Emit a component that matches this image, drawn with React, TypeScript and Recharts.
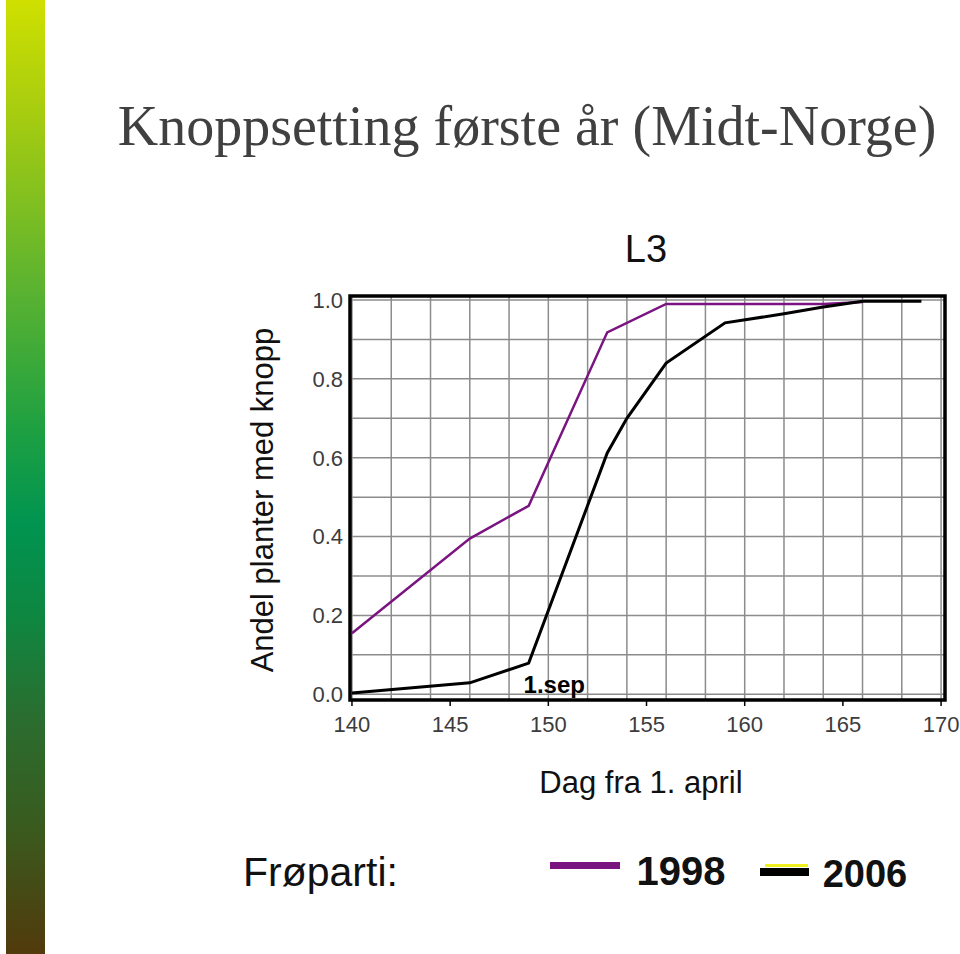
import { LineChart, Line, XAxis, YAxis, CartesianGrid, ReferenceArea, ReferenceDot } from 'recharts';

// Dag fra 1. april / andel planter med knopp
const days1998 = [140, 146, 149, 153, 156, 164, 166];
const share1998 = [0.155, 0.395, 0.478, 0.918, 0.99, 0.99, 0.995];
const days2006 = [140, 146, 149, 153, 154, 156, 159, 162, 164, 166, 169];
const share2006 = [0.003, 0.029, 0.079, 0.612, 0.7, 0.84, 0.942, 0.965, 0.982, 0.997, 0.997];

const xTicks = [140, 145, 150, 155, 160, 165, 170];
const yTicks = [0, 0.2, 0.4, 0.6, 0.8, 1.0];
const seriesNames = ['1998', '2006'];

const data1998 = days1998.map((day, i) => ({ day, share: share1998[i] }));
const data2006 = days2006.map((day, i) => ({ day, share: share2006[i] }));

const gridDays = Array.from({ length: 31 }, (_, i) => 140 + i);
const gridShares = Array.from({ length: 11 }, (_, i) => i / 10);

const X_DOMAIN: [number, number] = [139.9, 170.2];
const Y_DOMAIN: [number, number] = [-0.0145, 1.0101];

const tickStyle = { fill: '#3c3c3c', fontSize: 22, fontFamily: '"Liberation Sans", Arial, sans-serif' };

const App = () => {
  return (
    <div style={{ position: 'absolute', left: 0, top: 0, width: 960, height: 954, background: '#fff' }}>
      <svg width={960} height={954} style={{ position: 'absolute', left: 0, top: 0 }}>
        <defs>
          <linearGradient id="strip" x1="0" y1="0" x2="0" y2="1">
            <stop offset="0" stopColor="#cfe000" />
            <stop offset="0.12" stopColor="#a6cc10" />
            <stop offset="0.3" stopColor="#5cb330" />
            <stop offset="0.45" stopColor="#1ea042" />
            <stop offset="0.55" stopColor="#009450" />
            <stop offset="0.65" stopColor="#0f8640" />
            <stop offset="0.75" stopColor="#2a6e30" />
            <stop offset="0.87" stopColor="#3a5a1e" />
            <stop offset="1" stopColor="#523a0c" />
          </linearGradient>
        </defs>
        <rect x={6} y={0} width={39} height={954} fill="url(#strip)" />
        <text x={527} y={145} textAnchor="middle" fill="#404040" fontSize={56}
          fontFamily='"Liberation Serif", "Times New Roman", serif'>
          Knoppsetting første år (Midt-Norge)
        </text>
        <g fontFamily='"Liberation Sans", Arial, sans-serif' fill="#111">
          <text x={646} y={262} textAnchor="middle" fontSize={38}>L3</text>
          <text x={273} y={500} textAnchor="middle" fontSize={31} transform="rotate(-90, 273, 500)">
            Andel planter med knopp
          </text>
          <text x={641} y={793} textAnchor="middle" fontSize={31}>Dag fra 1. april</text>
          <text x={243} y={886} fontSize={41}>Frøparti:</text>
          <rect x={550} y={862} width={70} height={7} fill="#7a1480" />
          <text x={681} y={885} textAnchor="middle" fontSize={40} fontWeight="bold">{seriesNames[0]}</text>
          <rect x={765} y={864} width={43} height={3} fill="#f0f020" />
          <rect x={760} y={868} width={49} height={8} fill="#000" />
          <text x={865} y={887} textAnchor="middle" fontSize={38} fontWeight="bold">{seriesNames[1]}</text>
        </g>
      </svg>
      <div style={{ position: 'absolute', left: 0, top: 0 }}>
        <LineChart width={960} height={954} margin={{ top: 296, right: 15, bottom: 214, left: 300 }}>
          <CartesianGrid stroke="#8c8c8c" strokeWidth={1.5}
            verticalValues={gridDays} horizontalValues={gridShares} />
          <XAxis dataKey="day" type="number" domain={X_DOMAIN} allowDataOverflow ticks={xTicks}
            height={40} axisLine={false} tickSize={6} tickMargin={10}
            tickLine={{ stroke: '#000', strokeWidth: 1.5 }} tick={tickStyle} />
          <YAxis type="number" domain={Y_DOMAIN} allowDataOverflow ticks={yTicks} width={50}
            axisLine={false} tickLine={false} tickSize={0} tickMargin={7}
            tickFormatter={(v: number) => v.toFixed(1)} tick={tickStyle} />
          <ReferenceArea x1={X_DOMAIN[0]} x2={X_DOMAIN[1]} y1={Y_DOMAIN[0]} y2={Y_DOMAIN[1]}
            fill="none" stroke="#000" strokeWidth={3.5} ifOverflow="visible" />
          <Line data={data1998} dataKey="share" name={seriesNames[0]} type="linear" stroke="#7a1480"
            strokeWidth={2.5} dot={false} isAnimationActive={false} />
          <Line data={data2006} dataKey="share" name={seriesNames[1]} type="linear" stroke="#000"
            strokeWidth={3} dot={false} isAnimationActive={false} />
          <ReferenceDot x={150.3} y={0} r={1} fill="none" stroke="none"
            label={{ value: '1.sep', position: 'top', offset: 0, fill: '#000', fontSize: 24, fontWeight: 'bold',
              fontFamily: '"Liberation Sans", Arial, sans-serif' }} />
        </LineChart>
      </div>
    </div>
  );
};

export default App;
